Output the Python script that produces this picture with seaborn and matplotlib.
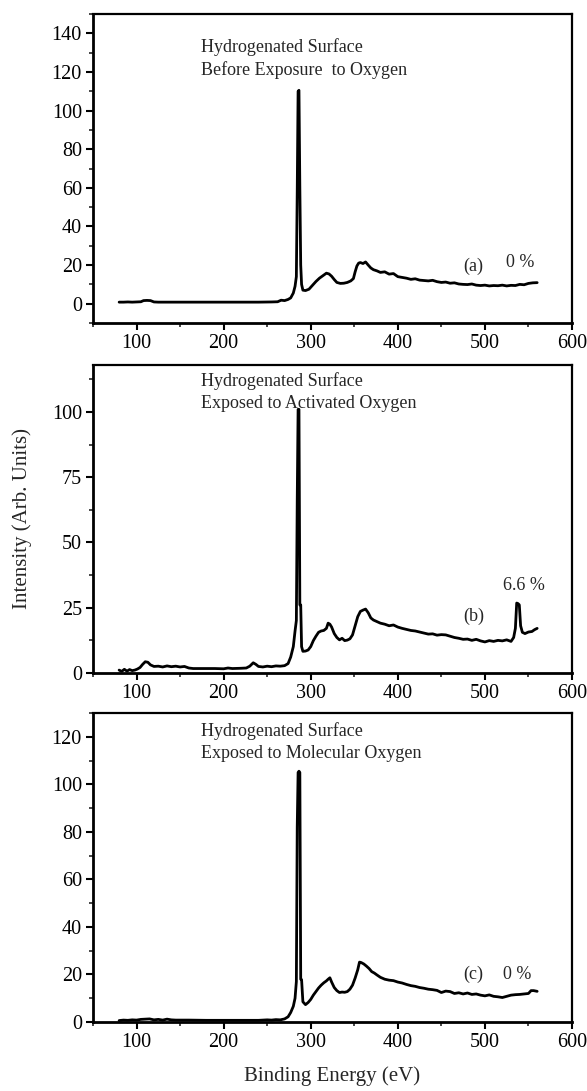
import numpy as np
import pandas as pd
import matplotlib
matplotlib.use("Agg")
import matplotlib.pyplot as plt
from matplotlib.ticker import MultipleLocator
import seaborn as sns

# ---------------- data ----------------
energy_a = [80, 85, 90, 95, 100, 105, 108, 112, 116, 120, 125, 140, 160, 180, 200, 220, 240, 255, 262, 266,
            270, 274, 277, 280, 282, 283.5, 284.5, 285.5, 286.5, 287.5, 288.5, 289.5, 291, 294, 298, 302, 306,
            310, 314, 318, 321, 324, 327, 330, 334, 338, 342, 346, 349, 351, 353, 355, 357, 360, 363, 366, 369,
            372, 376, 380, 385, 390, 395, 400, 405, 410, 415, 420, 425, 430, 435, 440, 445, 450, 455, 460, 465,
            470, 475, 480, 485, 490, 495, 500, 505, 510, 515, 520, 525, 530, 535, 540, 545, 550, 555, 560]
intensity_a = [0.8, 0.8, 0.9, 0.8, 0.9, 1.0, 1.6, 1.7, 1.6, 0.9, 0.8, 0.8, 0.8, 0.8, 0.8, 0.8, 0.8, 0.9, 1.0, 1.8,
               1.6, 2.2, 3.0, 5.5, 9.0, 14.0, 58.0, 110.0, 110.5, 60.0, 20.0, 10.0, 7.0, 6.8, 7.5, 9.5, 11.5,
               13.2, 14.5, 15.8, 15.4, 14.2, 12.5, 11.0, 10.5, 10.6, 11.0, 11.8, 13.0, 16.5, 19.5, 21.0, 21.3, 20.8,
               21.6, 20.0, 18.5, 17.6, 17.0, 16.2, 16.5, 15.3, 15.6, 14.0, 13.6, 13.2, 12.6, 12.9, 12.2, 12.0, 11.8,
               12.1, 11.4, 11.0, 11.2, 10.6, 10.8, 10.2, 10.0, 9.9, 10.2, 9.6, 9.4, 9.6, 9.2, 9.4, 9.3, 9.6, 9.2,
               9.5, 9.4, 10.0, 9.8, 10.5, 10.8, 10.9]

energy_b = [80, 83, 86, 89, 92, 95, 98, 101, 104, 107, 110, 113, 116, 120, 125, 130, 135, 140, 145, 150, 155, 160,
            165, 170, 180, 190, 200, 205, 210, 220, 226, 230, 234, 237, 240, 245, 250, 255, 260, 265, 270, 274,
            277, 280, 282, 283.5, 284.5, 285.5, 286.5, 287.5, 288.5, 289.5, 291, 294, 297, 300, 303, 306, 309,
            312, 315, 318, 320, 322, 324, 327, 330, 333, 336, 339, 342, 345, 348, 351, 354, 357, 360, 363, 366,
            369, 372, 376, 380, 385, 390, 395, 400, 405, 410, 415, 420, 425, 430, 435, 440, 445, 450, 455, 460,
            465, 470, 475, 480, 485, 490, 495, 500, 505, 510, 515, 520, 525, 530, 533, 535, 536.5, 538, 539.5,
            541, 543, 546, 550, 554, 557, 560]
intensity_b = [1.0, 0.5, 1.3, 0.6, 1.2, 0.8, 1.0, 1.4, 2.0, 3.2, 4.2, 4.0, 3.0, 2.4, 2.5, 2.2, 2.6, 2.3, 2.5, 2.2,
               2.4, 1.8, 1.6, 1.6, 1.6, 1.6, 1.5, 1.8, 1.6, 1.7, 1.8, 2.5, 3.8, 3.2, 2.4, 2.2, 2.5, 2.3, 2.6, 2.5,
               2.7, 3.5, 6.0, 10.0, 16.0, 20.0, 66.0, 101.0, 101.0, 26.0, 26.0, 10.0, 8.2, 8.3, 8.7, 10.0, 12.3,
               14.0, 15.5, 16.0, 16.2, 17.0, 19.0, 18.6, 17.5, 15.0, 13.5, 12.6, 13.2, 12.3, 12.5, 13.0, 14.5,
               18.0, 21.5, 23.5, 24.0, 24.4, 23.0, 21.0, 20.2, 19.6, 19.0, 18.6, 18.0, 18.3, 17.5, 17.0, 16.6,
               16.2, 16.0, 15.6, 15.2, 14.8, 14.9, 14.4, 14.6, 14.5, 14.0, 13.5, 13.2, 12.8, 12.9, 12.4, 12.8,
               12.2, 11.8, 12.3, 12.0, 12.4, 12.2, 12.6, 12.0, 13.5, 17.0, 26.7, 26.5, 26.0, 18.0, 15.5, 15.0,
               15.6, 15.8, 16.5, 17.0]

energy_c = [80, 85, 90, 95, 100, 105, 110, 115, 120, 125, 130, 135, 140, 145, 150, 160, 180, 200, 220, 240, 250,
            255, 260, 265, 270, 274, 277, 280, 282, 283.5, 284.5, 285.5, 286.5, 287.5, 288.5, 289.5, 291, 294,
            297, 300, 303, 306, 309, 312, 315, 318, 320, 322, 324, 327, 330, 333, 336, 339, 342, 345, 348, 351,
            354, 356, 358, 361, 364, 367, 370, 373, 376, 380, 385, 390, 395, 400, 405, 410, 415, 420, 425, 430,
            435, 440, 445, 450, 455, 460, 465, 470, 475, 480, 485, 490, 495, 500, 505, 510, 515, 520, 525, 530,
            535, 540, 545, 550, 553, 556, 560]
intensity_c = [0.6, 0.8, 0.7, 0.9, 0.8, 1.1, 1.2, 1.3, 0.9, 1.1, 0.8, 1.2, 0.9, 0.8, 0.8, 0.8, 0.7, 0.7, 0.7, 0.7,
               0.9, 0.8, 1.0, 0.9, 1.3, 2.2, 4.0, 6.6, 10.0, 17.0, 82.0, 105.0, 105.5, 105.0, 18.0, 17.8, 8.5,
               7.3, 8.2, 9.5, 11.3, 12.8, 14.3, 15.5, 16.5, 17.3, 18.0, 18.6, 16.8, 14.5, 13.2, 12.4, 12.6, 12.5,
               12.8, 13.8, 15.5, 18.5, 22.0, 25.2, 25.0, 24.4, 23.5, 22.5, 21.2, 20.6, 19.8, 18.8, 18.0, 17.6,
               17.4, 16.8, 16.4, 15.8, 15.3, 15.0, 14.5, 14.2, 13.8, 13.6, 13.3, 12.4, 13.0, 12.8, 12.0, 12.3,
               11.8, 12.2, 11.6, 11.8, 11.3, 11.0, 11.4, 10.8, 10.6, 10.3, 10.8, 11.3, 11.5, 11.6, 11.8, 12.0,
               13.2, 13.2, 12.9]

panel_titles = ["Hydrogenated Surface\nBefore Exposure  to Oxygen",
                "Hydrogenated Surface\nExposed to Activated Oxygen",
                "Hydrogenated Surface\nExposed to Molecular Oxygen"]
panel_tags = ["(a)", "(b)", "(c)"]
panel_percent = ["0 %", "6.6 %", "0 %"]
x_ticks = [100, 200, 300, 400, 500, 600]
x_label = "Binding Energy (eV)"
y_label = "Intensity (Arb. Units)"

# ---------------- styling ----------------
sns.set_theme(style="ticks")
plt.rcParams["font.family"] = ["Liberation Serif", "DejaVu Serif"]

fig = plt.figure(figsize=(5.87, 10.91), dpi=100)
left, width = 93 / 587, (572 - 93) / 587
H = 1091
boxes = [(14, 323), (365, 672.7), (713, 1022)]
axes = [fig.add_axes([left, (H - b) / H, width, (b - t) / H]) for t, b in boxes]

series = [(energy_a, intensity_a), (energy_b, intensity_b), (energy_c, intensity_c)]
ylims = [(-10, 150), (0, 118), (0, 130)]
ymajor = [20, 25, 20]
yminor = [10, 12.5, 10]
title_pos = [(174, 132.7, 121.0), (174, 112.0, 103.3), (174, 122.6, 113.1)]
tag_pos = [(487, 19.5), (487, 21.8), (487, 20.0)]
pct_pos = [(540, 21.3), (545, 33.3), (537, 20.0)]

for i, ax in enumerate(axes):
    ex, iy = series[i]
    df = pd.DataFrame({"E": ex, "I": iy})
    sns.lineplot(data=df, x="E", y="I", ax=ax, color="black", lw=2.0, estimator=None, sort=False)
    ax.set_xlim(50, 600)
    ax.set_xticks(x_ticks)
    ax.xaxis.set_minor_locator(MultipleLocator(50))
    ax.yaxis.set_major_locator(MultipleLocator(ymajor[i]))
    ax.yaxis.set_minor_locator(MultipleLocator(yminor[i]))
    ax.set_ylim(*ylims[i])
    ax.tick_params(axis="both", which="major", direction="out", length=5, width=1.5,
                   labelsize=14.5, colors="black", pad=3)
    ax.tick_params(axis="both", which="minor", direction="out", length=3, width=1.2)
    for s in ["left", "bottom"]:
        ax.spines[s].set_linewidth(2.0)
    for s in ["top", "right"]:
        ax.spines[s].set_linewidth(1.6)
    for s in ax.spines.values():
        s.set_color("black")
    ax.set_xlabel("")
    ax.set_ylabel("")
    t1, t2 = panel_titles[i].split("\n")
    tx, ty1, ty2 = title_pos[i]
    ax.text(tx, ty1, t1, fontsize=13, va="center", ha="left")
    ax.text(tx, ty2, t2, fontsize=13, va="center", ha="left")
    ax.text(*tag_pos[i], panel_tags[i], fontsize=13, va="center", ha="center")
    ax.text(*pct_pos[i], panel_percent[i], fontsize=13, va="center", ha="center")

axes[1].set_ylabel(y_label, fontsize=15, labelpad=14)
axes[2].set_xlabel(x_label, fontsize=15, labelpad=10)

fig.savefig("out.png", dpi=100, facecolor="white")
